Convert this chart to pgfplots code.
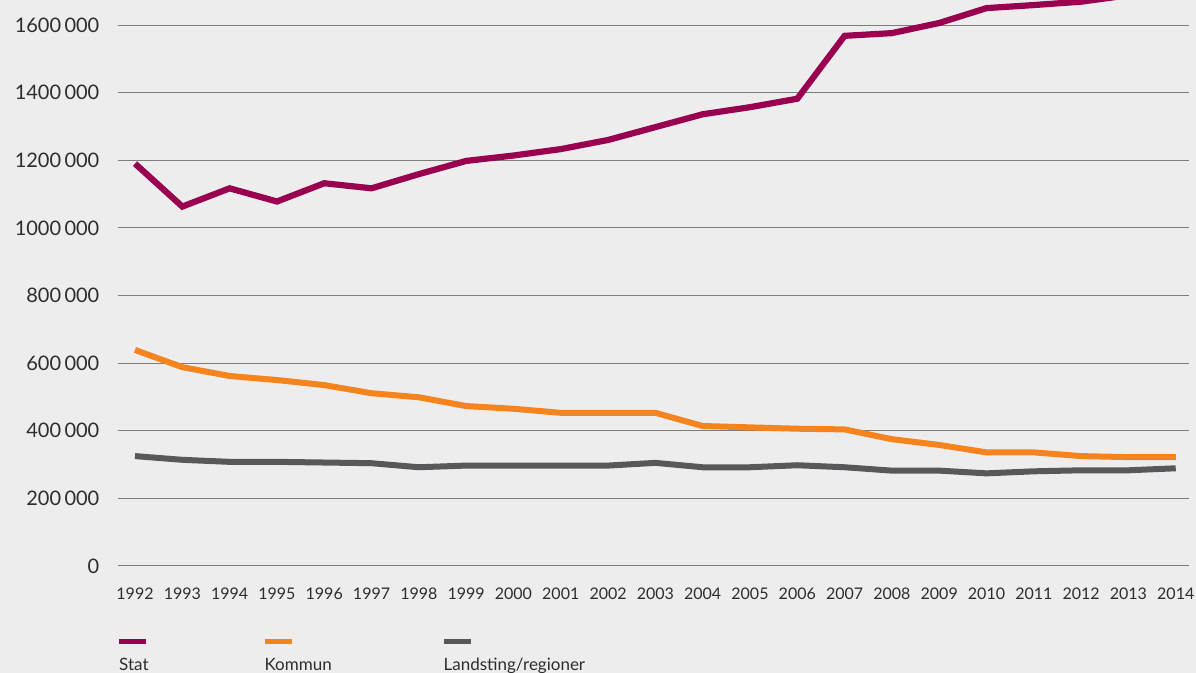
\documentclass[border=0pt]{standalone}
\usepackage{fontspec}
\setmainfont{Lato}
\usepackage{pgfplots}
\pgfplotsset{compat=1.18}
\definecolor{bg}{RGB}{237,237,237}
\definecolor{gridc}{RGB}{125,125,125}
\definecolor{txt}{RGB}{45,45,45}
\definecolor{stat}{RGB}{153,0,80}
\definecolor{kommun}{RGB}{245,132,31}
\definecolor{lands}{RGB}{88,88,90}
\begin{document}
\begin{tikzpicture}
\fill[bg] (-59pt,-53.5pt) rectangle (539pt,283pt);
\begin{axis}[
  scale only axis, width=535.5pt, height=283pt,
  at={(0pt,0pt)}, anchor=south west,
  xmin=1991.64, xmax=2014.28, ymin=0, ymax=1674000,
  xtick={1992,1993,...,2014},
  xticklabels={1992,1993,1994,1995,1996,1997,1998,1999,2000,2001,2002,2003,2004,2005,2006,2007,2008,2009,2010,2011,2012,2013,2014},
  ytick={0,200000,400000,600000,800000,1000000,1200000,1400000,1600000},
  yticklabels={0,200\,000,400\,000,600\,000,800\,000,1000\,000,1200\,000,1400\,000,1600\,000},
  scaled y ticks=false,
  ymajorgrids, grid style={line width=0.5pt, color=gridc},
  axis line style={draw=none}, major tick length=0pt,
  tick label style={color=txt},
  yticklabel style={font=\fontsize{10}{12}\selectfont, xshift=-5.8pt},
  xticklabel style={font=\fontsize{8}{10}\selectfont, yshift=-7.6pt},
  legend columns=3,
  legend cell align=left,
  legend style={at={(0,0)}, anchor=north west, xshift=-2.7pt, yshift=-45.75pt,
    draw=none, fill=none, inner sep=0pt, column sep=0pt,
    font=\fontsize{8.5}{10}\selectfont, text=txt,
    nodes={inner sep=0pt, text height=6.5pt, text depth=2pt}},
  legend image code/.code={\path (0pt,0pt); \draw[#1, overlay, line width=2.7pt, line cap=butt] (1.7pt,12.5pt) -- (15.2pt,12.5pt);},
]
\addplot[stat, line width=3.1pt] coordinates {
(1992,1190000) (1993,1063000) (1994,1117000) (1995,1078000) (1996,1132000)
(1997,1117000) (1998,1159000) (1999,1198000) (2000,1214000) (2001,1233000)
(2002,1260000) (2003,1298000) (2004,1336000) (2005,1357000) (2006,1382000)
(2007,1568000) (2008,1576000) (2009,1606000) (2010,1650000) (2011,1659000)
(2012,1669000) (2013,1688000) (2014,1705000)};
\addlegendentry{\makebox[69.7pt][l]{Stat}}
\addplot[kommun, line width=3pt] coordinates {
(1992,639000) (1993,588000) (1994,562000) (1995,550000) (1996,535000)
(1997,511000) (1998,499000) (1999,473000) (2000,465000) (2001,453000)
(2002,453000) (2003,453000) (2004,414000) (2005,410000) (2006,406000)
(2007,404000) (2008,375000) (2009,358000) (2010,336000) (2011,336000)
(2012,325000) (2013,322000) (2014,322000)};
\addlegendentry{\makebox[86.5pt][l]{Kommun}}
\addplot[lands, line width=3pt] coordinates {
(1992,325000) (1993,314000) (1994,308000) (1995,308000) (1996,306000)
(1997,304000) (1998,292000) (1999,297000) (2000,297000) (2001,297000)
(2002,297000) (2003,305000) (2004,292000) (2005,292000) (2006,298000)
(2007,292000) (2008,282000) (2009,282000) (2010,274000) (2011,280000)
(2012,283000) (2013,283000) (2014,289000)};
\addlegendentry{Landsting/regioner}
\end{axis}
\pgfresetboundingbox
\path (-59pt,-53.5pt) rectangle (539pt,283pt);
\end{tikzpicture}
\end{document}
